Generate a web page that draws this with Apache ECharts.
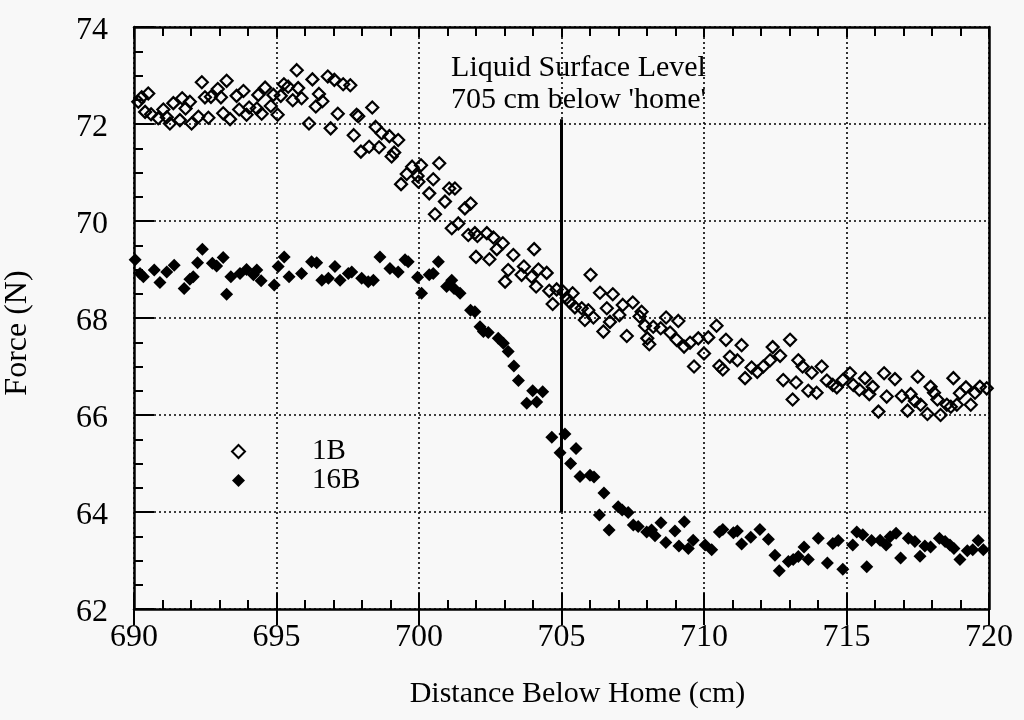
<!DOCTYPE html>
<html>
<head>
<meta charset="utf-8">
<script src="https://cdn.jsdelivr.net/npm/echarts@6/dist/echarts.min.js"></script>
<style>html,body{margin:0;padding:0;background:#f8f8f8;}#chart{width:1024px;height:720px;}</style>
</head>
<body>
<div id="chart"></div>
<script>
// ---- data ----
const xTicks = [690, 695, 700, 705, 710, 715, 720];
const yTicks = [62, 64, 66, 68, 70, 72, 74];
const seriesNames = ['1B', '16B'];
const annotationLines = ['Liquid Surface Level', "705 cm below 'home'"];
const surfaceLevel = 705;
const surfaceLineSpan = [64, 72.1];

const b1X = [690.15,690.27,690.39,690.50,690.60,690.85,691.03,691.15,691.26,691.38,691.61,691.69,691.81,691.96,692.02,692.26,692.38,692.49,692.61,692.70,692.94,693.05,693.13,693.25,693.37,693.60,693.69,693.84,693.95,694.04,694.31,694.36,694.48,694.60,694.80,694.89,695.04,695.15,695.26,695.41,695.57,695.71,695.76,695.88,696.14,696.26,696.38,696.49,696.61,696.80,696.90,697.03,697.15,697.34,697.59,697.71,697.81,697.87,697.96,698.25,698.36,698.48,698.60,698.69,698.96,699.04,699.13,699.27,699.37,699.57,699.76,699.95,699.98,700.07,700.36,700.50,700.56,700.71,700.91,701.06,701.15,701.26,701.38,701.61,701.73,701.81,701.96,702.00,702.05,702.38,702.47,702.61,702.73,702.94,703.02,703.13,703.31,703.60,703.68,703.95,704.04,704.11,704.19,704.48,704.57,704.69,704.83,705.06,705.18,705.30,705.39,705.47,705.71,705.82,705.94,706.02,706.12,706.35,706.47,706.59,706.70,706.80,707.03,707.15,707.29,707.50,707.74,707.81,707.93,708.01,708.08,708.22,708.48,708.67,708.81,709.04,709.10,709.30,709.51,709.65,709.80,710.00,710.15,710.44,710.54,710.66,710.77,710.91,711.17,711.32,711.44,711.67,711.87,712.08,712.32,712.41,712.67,712.78,713.02,713.11,713.23,713.31,713.46,713.66,713.78,713.95,714.13,714.31,714.52,714.66,714.87,715.12,715.24,715.45,715.65,715.80,715.92,716.12,716.32,716.41,716.70,716.94,717.14,717.25,717.40,717.50,717.60,717.84,717.95,718.07,718.19,718.30,718.52,718.66,718.75,718.87,718.98,719.19,719.36,719.51,719.68,719.92,720.01];
const b1Y = [72.46,72.55,72.25,72.63,72.20,72.12,72.30,72.14,72.01,72.43,72.08,72.53,72.32,72.46,72.01,72.15,72.86,72.55,72.13,72.56,72.72,72.55,72.22,72.89,72.10,72.58,72.30,72.68,72.19,72.34,72.32,72.60,72.21,72.75,72.37,72.60,72.19,72.58,72.82,72.77,72.49,73.11,72.74,72.53,72.01,72.92,72.36,72.62,72.47,72.98,71.91,72.91,72.21,72.82,72.80,71.77,72.19,72.16,71.43,71.53,72.34,71.94,71.52,71.81,71.75,71.33,71.41,71.67,70.76,70.97,71.12,70.93,70.81,71.15,70.57,70.86,70.14,71.19,70.40,70.67,69.85,70.67,69.95,70.26,69.71,70.36,69.75,69.26,69.69,69.75,69.21,69.66,69.42,69.54,68.75,68.99,69.30,68.89,69.06,68.85,69.42,68.65,69.00,68.93,68.56,68.29,68.59,68.54,68.41,68.32,68.51,68.22,68.20,67.96,68.16,68.89,68.01,68.52,67.72,68.20,67.92,68.49,68.06,68.27,67.63,68.32,68.03,68.13,67.84,67.58,67.46,67.82,67.79,68.01,67.70,67.55,67.94,67.41,67.49,67.00,67.58,67.27,67.60,67.84,67.01,66.94,67.55,67.20,67.13,67.44,66.76,66.98,66.89,67.00,67.13,67.40,67.22,66.72,67.55,66.32,66.67,67.13,67.00,66.50,66.87,66.46,67.00,66.71,66.62,66.57,66.72,66.86,66.62,66.52,66.76,66.43,66.58,66.07,66.86,66.38,66.74,66.39,66.09,66.43,66.29,66.79,66.21,66.02,66.58,66.46,66.32,66.00,66.21,66.17,66.76,66.21,66.45,66.57,66.21,66.46,66.58,66.55,66.16];

const b16X = [690.04,690.21,690.33,690.71,690.91,691.15,691.41,691.76,691.96,692.08,692.23,692.40,692.75,692.90,693.13,693.25,693.40,693.72,693.95,694.19,694.31,694.46,694.92,695.06,695.27,695.44,695.88,696.23,696.41,696.59,696.82,697.05,697.23,697.52,697.64,697.99,698.22,698.40,698.63,698.98,699.27,699.51,699.62,699.95,700.09,700.36,700.50,700.68,700.97,701.15,701.23,701.44,701.81,701.96,702.14,702.26,702.43,702.78,702.96,703.13,703.33,703.49,703.78,703.99,704.13,704.34,704.66,704.95,705.12,705.32,705.51,705.65,706.00,706.14,706.33,706.49,706.67,706.99,707.13,707.34,707.52,707.69,707.99,708.16,708.28,708.49,708.66,708.98,709.12,709.31,709.45,709.62,710.04,710.27,710.54,710.66,711.03,711.17,711.32,711.64,711.96,712.26,712.49,712.64,712.96,713.13,713.31,713.51,713.66,714.01,714.33,714.52,714.71,714.87,715.22,715.36,715.57,715.71,715.88,716.18,716.39,716.53,716.74,716.90,717.17,717.40,717.58,717.75,717.95,718.26,718.46,718.63,718.77,718.98,719.24,719.43,719.62,719.80,720.01];
const b16Y = [69.20,68.92,68.85,68.99,68.73,68.95,69.09,68.61,68.80,68.85,69.14,69.42,69.13,69.07,69.25,68.49,68.85,68.92,69.00,68.89,68.99,68.77,68.68,69.06,69.26,68.85,68.92,69.16,69.14,68.78,68.82,69.06,68.78,68.92,68.95,68.82,68.75,68.78,69.26,69.02,68.95,69.20,69.16,68.84,68.51,68.89,68.92,69.16,68.65,68.78,68.61,68.51,68.16,68.13,67.82,67.72,67.70,67.58,67.48,67.31,67.01,66.71,66.24,66.50,66.27,66.48,65.54,65.22,65.61,65.00,65.31,64.73,64.76,64.72,63.94,64.39,63.63,64.11,64.04,63.99,63.73,63.70,63.59,63.63,63.51,63.78,63.37,63.61,63.30,63.80,63.25,63.42,63.32,63.22,63.59,63.64,63.57,63.61,63.34,63.48,63.64,63.44,63.11,62.79,62.98,63.02,63.08,63.28,63.02,63.46,62.95,63.35,63.41,62.82,63.32,63.59,63.53,62.87,63.41,63.42,63.32,63.49,63.56,63.05,63.46,63.39,63.09,63.30,63.28,63.46,63.39,63.32,63.25,63.02,63.20,63.22,63.41,63.22,63.22];

// ---- chart ----
const FONT = "'Liberation Serif', 'Times New Roman', serif";
const xMin = xTicks[0], xMax = xTicks[xTicks.length - 1];
const yMin = yTicks[0], yMax = yTicks[yTicks.length - 1];
const xStep = xTicks[1] - xTicks[0], yStep = yTicks[1] - yTicks[0];
const pts = (xs, ys) => xs.map((x, i) => [x, ys[i]]);
const black = '#000';
const dotted = { color: black, width: 1.6, type: [2, 3] };

const chart = echarts.init(document.getElementById('chart'), null, { renderer: 'canvas' });
chart.setOption({
  backgroundColor: '#f8f8f8',
  animation: false,
  textStyle: { fontFamily: FONT, color: black },
  grid: { left: 134, right: 35, top: 27, bottom: 111, containLabel: false, outerBoundsMode: 'none' },
  xAxis: [
    {
      type: 'value', position: 'bottom', min: xMin, max: xMax, interval: xStep,
      axisLine: { show: true, lineStyle: { color: black, width: 2.5 } },
      axisTick: { show: true, inside: false, length: 16, lineStyle: { color: black, width: 2 } },
      minorTick: { show: false },
      axisLabel: { show: true, color: black, fontFamily: FONT, fontSize: 32, margin: 13 },
      splitLine: { show: true, lineStyle: dotted },
      name: 'Distance Below Home (cm)', nameLocation: 'middle', nameGap: 70,
      nameTextStyle: { fontFamily: FONT, fontSize: 30, color: black, padding: [0, 0, 0, 32] }
    },
    {
      type: 'value', position: 'bottom', min: xMin, max: xMax, interval: xStep,
      axisLine: { show: false },
      axisTick: { show: true, inside: true, length: 16, lineStyle: { color: black, width: 2 } },
      minorTick: { show: true, splitNumber: 5, length: 9, lineStyle: { color: black, width: 2 } },
      axisLabel: { show: false }, splitLine: { show: false }
    },
    {
      type: 'value', position: 'top', min: xMin, max: xMax, interval: xStep,
      axisLine: { show: true, lineStyle: { color: black, width: 2.5 } },
      axisTick: { show: true, inside: true, length: 10, lineStyle: { color: black, width: 2 } },
      minorTick: { show: true, splitNumber: 5, length: 9, lineStyle: { color: black, width: 2 } },
      axisLabel: { show: false }, splitLine: { show: false }
    }
  ],
  yAxis: [
    {
      type: 'value', position: 'left', min: yMin, max: yMax, interval: yStep,
      axisLine: { show: true, lineStyle: { color: black, width: 2.5 } },
      axisTick: { show: true, inside: true, length: 20, lineStyle: { color: black, width: 2 } },
      minorTick: { show: true, splitNumber: 4, length: 9, lineStyle: { color: black, width: 2 } },
      axisLabel: {
        show: true, color: black, margin: 26,
        formatter: '{v|{value}}',
        rich: { v: { fontFamily: FONT, fontSize: 32, color: black, padding: [8, 0, 0, 0] } }
      },
      splitLine: { show: true, lineStyle: dotted },
      name: 'Force (N)', nameLocation: 'middle', nameGap: 100, nameRotate: 90,
      nameTextStyle: { fontFamily: FONT, fontSize: 32, color: black, padding: [0, 30, 0, 0] }
    },
    {
      type: 'value', position: 'right', min: yMin, max: yMax, interval: yStep,
      axisLine: { show: true, lineStyle: { color: black, width: 2.5 } },
      axisTick: { show: false }, axisLabel: { show: false }, splitLine: { show: false }
    }
  ],
  legend: {
    orient: 'vertical', left: 226, top: 432, itemGap: 0,
    itemWidth: 13, itemHeight: 13,
    data: [
      { name: seriesNames[0], icon: 'diamond', itemStyle: { color: 'transparent', borderColor: black, borderWidth: 2, opacity: 1 } },
      { name: seriesNames[1], icon: 'diamond', itemStyle: { color: black, opacity: 1 } }
    ],
    textStyle: { fontFamily: FONT, fontSize: 29, color: black, padding: [0, 0, 0, 62] }
  },
  series: [
    {
      name: seriesNames[0], type: 'scatter', data: pts(b1X, b1Y),
      symbol: 'diamond', symbolSize: 12,
      itemStyle: { color: 'transparent', borderColor: black, borderWidth: 2.2, opacity: 1 },
      markLine: {
        silent: true, symbol: ['none', 'none'],
        lineStyle: { color: black, width: 3, type: 'solid', opacity: 1 },
        label: { show: false },
        data: [[{ coord: [surfaceLevel, surfaceLineSpan[0]] }, { coord: [surfaceLevel, surfaceLineSpan[1]] }]]
      }
    },
    {
      name: seriesNames[1], type: 'scatter', data: pts(b16X, b16Y),
      symbol: 'diamond', symbolSize: 13,
      itemStyle: { color: black, opacity: 1 }
    }
  ]
});

// annotation text placed at the surface level in data coordinates
const ap = chart.convertToPixel({ xAxisIndex: 0, yAxisIndex: 0 }, [surfaceLevel, yMax]);
chart.setOption({
  graphic: [
    { type: 'text', x: ap[0] + 17, y: ap[1] + 25, z: 10,
      style: { text: annotationLines.join('\n'), fill: black, font: "30px " + FONT,
               align: 'center', lineHeight: 32 } }
  ]
});
</script>
</body>
</html>
